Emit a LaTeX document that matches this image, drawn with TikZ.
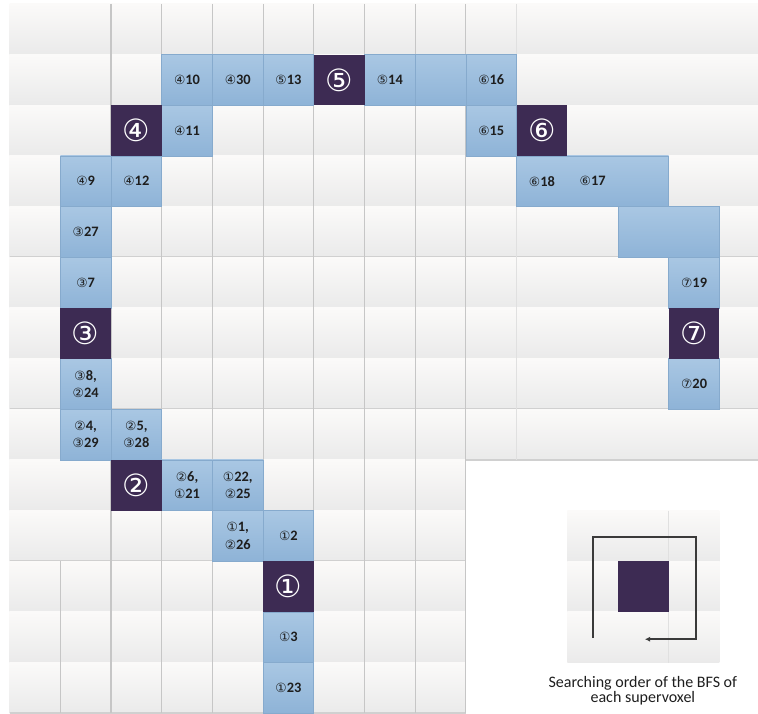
\documentclass[tikz,border=0pt]{standalone}
\usepackage{fontspec}
\setmainfont{Carlito}
\newfontfamily\cfont{DejaVu Sans}
\usetikzlibrary{arrows.meta}
\definecolor{rowtop}{HTML}{FBFAF9}
\definecolor{rowbot}{HTML}{EAEAEA}
\definecolor{rowline}{HTML}{D0D0D0}
\definecolor{vline}{HTML}{C6C6C6}
\definecolor{vfaint}{HTML}{E0E0E0}
\definecolor{bluetop}{HTML}{A9C7E3}
\definecolor{bluebot}{HTML}{8EB3D7}
\definecolor{blueline}{HTML}{86AACD}
\definecolor{darkcell}{HTML}{3D2B53}
\definecolor{txt}{HTML}{1E1E1E}
\definecolor{spiralc}{HTML}{3A3A3A}
\newcommand\cc[1]{{\cfont\mdseries\fontsize{9.5}{10}\selectfont #1}}
\tikzset{
  rowshade/.style={top color=rowtop, bottom color=rowbot, draw=none},
  rowrule/.style={draw=rowline, line width=1.2pt},
  vrule/.style={draw=vline, line width=0.8pt},
  vfrule/.style={draw=vfaint, line width=0.7pt},
  bluecell/.style={rectangle, draw=blueline, line width=0.5pt, top color=bluetop, bottom color=bluebot,
    minimum width=38.025pt, minimum height=37.99pt, inner sep=0pt, outer sep=0pt},
  celltext/.style={font=\bfseries\fontsize{10.8}{12.8}\selectfont, text=txt, align=center, inner sep=0pt},
  darkbox/.style={rectangle, fill=darkcell, minimum width=38.025pt, minimum height=37.99pt, inner sep=0pt,
    outer sep=0pt, text=white, font=\cfont\fontsize{23}{23}\selectfont},
  spiral/.style={draw=spiralc, line width=1.6pt},
  captext/.style={font=\fontsize{12}{11.6}\selectfont, text=txt, align=center, inner sep=0pt}
}
\begin{document}
\begin{tikzpicture}[x=38.025pt, y=-37.99pt]
\useasboundingbox (-0.189,-0.079) rectangle (14.761,14.0);
% row backgrounds
\foreach \r in {0,...,8} {
  \shade[rowshade] (0,\r) rectangle (14.761,\r+1);
  \draw[rowrule] (0,\r+1) -- (14.761,\r+1);
}
\foreach \r in {9,...,13} {
  \shade[rowshade] (0,\r) rectangle (9,\r+1);
  \draw[rowrule] (0,\r+1) -- (9,\r+1);
}
% vertical rules
\foreach \c in {2,...,9} \draw[vrule] (\c,0) -- (\c,14);
\draw[vrule] (1,11) -- (1,14);
\draw[vfrule] (10,0) -- (10,9);
% blue cells
\node[bluecell] (b410) at (3.5,1.5) {};
\node[bluecell] (b430) at (4.5,1.5) {};
\node[bluecell] (b513) at (5.5,1.5) {};
\node[bluecell] (b514) at (7.5,1.5) {};
\node[bluecell] (bx1) at (8.5,1.5) {};
\node[bluecell] (b616) at (9.5,1.5) {};
\node[bluecell] (b411) at (3.5,2.5) {};
\node[bluecell] (b615) at (9.5,2.5) {};
\node[bluecell] (b49) at (1.5,3.5) {};
\node[bluecell] (b412) at (2.5,3.5) {};
\node[bluecell, minimum width=114.075pt] (bx3) at (11.5,3.5) {};
\node[bluecell] (b327) at (1.5,4.5) {};
\node[bluecell, minimum width=76.05pt] (bx4) at (13,4.5) {};
\node[bluecell] (b37) at (1.5,5.5) {};
\node[bluecell] (b719) at (13.5,5.5) {};
\node[bluecell] (b38) at (1.5,7.5) {};
\node[bluecell] (b720) at (13.5,7.5) {};
\node[bluecell] (b24) at (1.5,8.5) {};
\node[bluecell] (b25) at (2.5,8.5) {};
\node[bluecell] (b26) at (3.5,9.5) {};
\node[bluecell] (b122) at (4.5,9.5) {};
\node[bluecell] (b11) at (4.5,10.5) {};
\node[bluecell] (b12) at (5.5,10.5) {};
\node[bluecell] (b13) at (5.5,12.5) {};
\node[bluecell] (b123) at (5.5,13.5) {};
% dark cells
\node[darkbox] (d5) at (6.5,1.5) {⑤};
\node[darkbox] (d4) at (2.5,2.5) {④};
\node[darkbox] (d6) at (10.5,2.5) {⑥};
\node[darkbox] (d3) at (1.5,6.5) {③};
\node[darkbox] (d7) at (13.5,6.5) {⑦};
\node[darkbox] (d2) at (2.5,9.5) {②};
\node[darkbox] (d1) at (5.5,11.5) {①};
% labels
\node[celltext] (t410) at (b410) {\cc{④}10};
\node[celltext] (t430) at (b430) {\cc{④}30};
\node[celltext] (t513) at (b513) {\cc{⑤}13};
\node[celltext] (t514) at (b514) {\cc{⑤}14};
\node[celltext] (t616) at (b616) {\cc{⑥}16};
\node[celltext] (t411) at (b411) {\cc{④}11};
\node[celltext] (t615) at (b615) {\cc{⑥}15};
\node[celltext] (t49) at (b49) {\cc{④}9};
\node[celltext] (t412) at (b412) {\cc{④}12};
\node[celltext] (t618) at (10.5,3.5) {\cc{⑥}18};
\node[celltext] (t617) at (11.5,3.5) {\cc{⑥}17};
\node[celltext] (t327) at (b327) {\cc{③}27};
\node[celltext] (t37) at (b37) {\cc{③}7};
\node[celltext] (t719) at (b719) {\cc{⑦}19};
\node[celltext] (t38) at (b38) {\cc{③}8,\\\cc{②}24};
\node[celltext] (t720) at (b720) {\cc{⑦}20};
\node[celltext] (t24) at (b24) {\cc{②}4,\\\cc{③}29};
\node[celltext] (t25) at (b25) {\cc{②}5,\\\cc{③}28};
\node[celltext] (t26) at (b26) {\cc{②}6,\\\cc{①}21};
\node[celltext] (t122) at (b122) {\cc{①}22,\\\cc{②}25};
\node[celltext] (t11) at (b11) {\cc{①}1,\\\cc{②}26};
\node[celltext] (t12) at (b12) {\cc{①}2};
\node[celltext] (t13) at (b13) {\cc{①}3};
\node[celltext] (t123) at (b123) {\cc{①}23};
% legend
\foreach \r in {10,11,12} \shade[rowshade] (11,\r) rectangle (14,\r+1);
\draw[vfrule] (13,10) -- (13,13);
\node[darkbox] (lc) at (12.5,11.5) {};
\coordinate (s0) at (11.507,12.52);
\coordinate (s1) at (11.507,10.52);
\coordinate (s2) at (13.54,10.52);
\coordinate (s3) at (13.54,12.54);
\coordinate (s4) at (12.53,12.54);
\draw[spiral, -{Latex[length=4pt,width=4pt]}] (s0) -- (s1) -- (s2) -- (s3) -- (s4);
\node[captext] (cap) at (12.49,13.56) {Searching order of the BFS of\\each supervoxel};
\end{tikzpicture}
\end{document}
